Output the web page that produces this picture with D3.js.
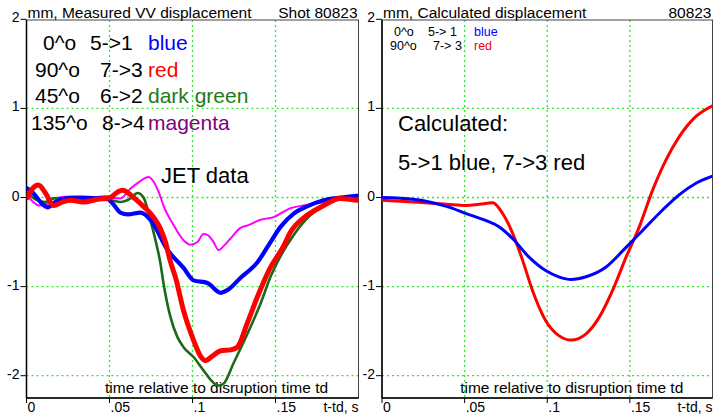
<!DOCTYPE html>
<html>
<head>
<meta charset="utf-8">
<script src="https://cdn.jsdelivr.net/npm/d3@7"></script>
<style>
  body { margin: 0; background: #fff; }
  svg { display: block; font-family: "Liberation Sans", Arial, Helvetica, sans-serif; }
</style>
</head>
<body>
<div id="main-container"></div>
<script>
// ---- Data ----
const Y_TICKS = [2, 1, 0, -1, -2];
const X_TICKS = [0, 0.05, 0.1, 0.15];
const X_TICK_LABELS = ['0', '.05', '.1', '.15'];
const GRID_X = [0.05, 0.1, 0.15];
const GRID_Y = [1, 0, -1, -2];

// measured VV displacement, [t - td (s), mm]
const MEAS_BLUE = [[0.0006,0.1],[0.004,0.05],[0.0084,-0.05],[0.0127,-0.11],[0.0175,-0.05],[0.0235,-0.01],
  [0.0325,0.0],[0.0416,-0.01],[0.0476,0.0],[0.052,-0.07],[0.0566,-0.17],[0.061,-0.19],[0.0687,-0.17],
  [0.0747,-0.25],[0.085,-0.59],[0.0946,-0.79],[0.1006,-0.93],[0.109,-0.96],[0.117,-1.07],[0.121,-1.04],
  [0.129,-0.9],[0.139,-0.73],[0.147,-0.5],[0.153,-0.33],[0.161,-0.18],[0.169,-0.1],[0.179,-0.03],
  [0.189,0.0],[0.199,0.02]];
const MEAS_RED = [[0.0006,0.0],[0.0036,0.1],[0.0072,0.14],[0.0114,0.05],[0.0163,-0.09],[0.0217,-0.05],
  [0.0265,-0.03],[0.0343,-0.05],[0.0428,-0.02],[0.0506,0.0],[0.054,0.05],[0.0578,0.08],[0.0645,0.0],
  [0.0705,-0.1],[0.0765,-0.22],[0.0807,-0.35],[0.0837,-0.5],[0.0867,-0.72],[0.0898,-0.9],[0.0946,-1.27],
  [0.1006,-1.6],[0.1048,-1.78],[0.1078,-1.83],[0.112,-1.78],[0.117,-1.72],[0.123,-1.71],[0.127,-1.68],
  [0.133,-1.41],[0.139,-1.12],[0.146,-0.82],[0.155,-0.54],[0.159,-0.39],[0.169,-0.2],[0.179,-0.09],
  [0.189,-0.01],[0.199,-0.03]];
const MEAS_GREEN = [[0.0006,0.05],[0.0054,-0.02],[0.0114,-0.05],[0.0163,-0.01],[0.0283,-0.01],[0.0386,-0.02],
  [0.0506,-0.03],[0.0566,-0.05],[0.0627,-0.01],[0.0669,0.05],[0.0705,0.0],[0.0747,-0.26],[0.0777,-0.48],
  [0.0807,-0.74],[0.0825,-0.96],[0.0867,-1.34],[0.091,-1.57],[0.0946,-1.68],[0.1006,-1.79],[0.1066,-1.94],
  [0.1127,-2.08],[0.1157,-2.11],[0.1187,-2.09],[0.1247,-1.86],[0.1331,-1.53],[0.141,-1.19],[0.147,-0.89],
  [0.153,-0.66],[0.161,-0.42],[0.171,-0.2],[0.179,-0.1],[0.189,-0.02],[0.199,-0.03]];
const MEAS_MAGENTA = [[0.0006,0.02],[0.004,-0.05],[0.0072,-0.09],[0.0127,-0.07],[0.0163,-0.01],[0.0265,0.01],
  [0.0367,0.0],[0.0488,0.0],[0.0566,-0.01],[0.0627,0.1],[0.0675,0.17],[0.0735,0.23],[0.0765,0.18],
  [0.0795,0.07],[0.0825,-0.09],[0.0886,-0.31],[0.0946,-0.48],[0.0988,-0.53],[0.103,-0.5],[0.1066,-0.41],
  [0.109,-0.42],[0.1127,-0.5],[0.1157,-0.59],[0.119,-0.54],[0.1229,-0.46],[0.1289,-0.34],[0.1337,-0.31],
  [0.141,-0.25],[0.1488,-0.22],[0.159,-0.12],[0.1669,-0.09],[0.177,-0.06],[0.189,-0.01],[0.199,0.0]];

// calculated displacement
const CALC_BLUE = [[0,0.0],[0.019,-0.02],[0.039,-0.1],[0.051,-0.18],[0.063,-0.26],[0.071,-0.33],[0.079,-0.46],
  [0.089,-0.67],[0.099,-0.82],[0.107,-0.89],[0.1145,-0.92],[0.1235,-0.89],[0.1356,-0.78],[0.1477,-0.56],
  [0.1577,-0.37],[0.1698,-0.14],[0.1798,0.03],[0.19,0.16],[0.2,0.24]];
const CALC_RED = [[0,-0.03],[0.019,-0.05],[0.039,-0.075],[0.051,-0.09],[0.059,-0.075],[0.067,-0.06],
  [0.073,-0.18],[0.079,-0.4],[0.085,-0.7],[0.091,-1.04],[0.099,-1.38],[0.107,-1.55],[0.1145,-1.6],
  [0.1235,-1.53],[0.1316,-1.34],[0.1396,-1.04],[0.1477,-0.67],[0.1557,-0.33],[0.1637,0.08],[0.1718,0.42],
  [0.1798,0.68],[0.19,0.91],[0.2,1.03]];

// ---- Layout ----
const WIDTH = 713, HEIGHT = 417;
const PLOT_TOP = 20, PLOT_BOTTOM = 398;
const GRID_COLOR = '#2ee82e';

const SVG = d3.select('#main-container').append('svg')
  .attr('width', WIDTH).attr('height', HEIGHT);

const Y_SCALE = d3.scaleLinear().domain([2, -2]).range([19.3, 375.7]);

function drawPanel(id, x0, x1, title, shot, series) {
  const X_SCALE = d3.scaleLinear().domain([0, 0.2]).range([x0, x1]);
  const g = SVG.append('g').attr('id', id);

  g.append('clipPath').attr('id', id + '-clip')
    .append('rect').attr('x', x0).attr('y', PLOT_TOP)
    .attr('width', x1 - x0).attr('height', PLOT_BOTTOM - PLOT_TOP);

  // grid
  g.selectAll('.gx').data(GRID_X).enter().append('line')
    .attr('x1', d => X_SCALE(d)).attr('x2', d => X_SCALE(d))
    .attr('y1', PLOT_TOP).attr('y2', PLOT_BOTTOM)
    .attr('stroke', GRID_COLOR).attr('stroke-width', 1.3).attr('stroke-dasharray', '2,3');
  g.selectAll('.gy').data(GRID_Y).enter().append('line')
    .attr('y1', d => Y_SCALE(d)).attr('y2', d => Y_SCALE(d))
    .attr('x1', x0).attr('x2', x1)
    .attr('stroke', GRID_COLOR).attr('stroke-width', 1.3).attr('stroke-dasharray', '2,3');

  // frame
  g.append('rect').attr('x', x0).attr('y', PLOT_TOP)
    .attr('width', x1 - x0).attr('height', PLOT_BOTTOM - PLOT_TOP)
    .attr('fill', 'none').attr('stroke', '#444').attr('stroke-width', 1);
  g.append('line').attr('x1', x0).attr('x2', x0).attr('y1', PLOT_TOP).attr('y2', PLOT_BOTTOM)
    .attr('stroke', '#000').attr('stroke-width', 1.5);
  g.append('line').attr('x1', x0).attr('x2', x1).attr('y1', PLOT_BOTTOM).attr('y2', PLOT_BOTTOM)
    .attr('stroke', '#000').attr('stroke-width', 1.5);

  // y ticks
  g.selectAll('.yt').data(Y_TICKS).enter().append('line')
    .attr('x1', x0 - 6).attr('x2', x0)
    .attr('y1', d => Y_SCALE(d)).attr('y2', d => Y_SCALE(d))
    .attr('stroke', '#000').attr('stroke-width', 1);
  g.selectAll('.yl').data(Y_TICKS).enter().append('text')
    .attr('x', x0 - 7).attr('y', d => Y_SCALE(d) + 3)
    .attr('text-anchor', 'end').style('font-size', '14px')
    .text(d => d);

  // x ticks
  g.selectAll('.xt').data(X_TICKS).enter().append('line')
    .attr('x1', d => X_SCALE(d)).attr('x2', d => X_SCALE(d))
    .attr('y1', PLOT_BOTTOM).attr('y2', PLOT_BOTTOM + 5)
    .attr('stroke', '#000').attr('stroke-width', 1);
  g.selectAll('.xl').data(X_TICKS).enter().append('text')
    .attr('x', d => X_SCALE(d) + 1).attr('y', 412)
    .style('font-size', '14px')
    .text((d, i) => X_TICK_LABELS[i]);
  g.append('text').attr('x', x1).attr('y', 412).attr('text-anchor', 'end')
    .style('font-size', '14px').text('t-td, s');

  // titles
  g.append('text').attr('x', x0 + 1).attr('y', 18).style('font-size', '15.5px').text(title);
  g.append('text').attr('x', x1 - 1).attr('y', 18).attr('text-anchor', 'end')
    .style('font-size', '15.5px').text(shot);
  g.append('text').attr('x', X_SCALE(0.0473)).attr('y', 393)
    .style('font-size', '15.5px').text('time relative to disruption time td');

  // series
  const line = d3.line().x(d => X_SCALE(d[0])).y(d => Y_SCALE(d[1])).curve(d3.curveMonotoneX);
  const lines = g.append('g').attr('clip-path', `url(#${id}-clip)`);
  series.forEach(s => {
    lines.append('path').datum(s.data)
      .attr('d', line).attr('fill', 'none')
      .attr('stroke', s.color).attr('stroke-width', s.width)
      .attr('stroke-linejoin', 'round').attr('stroke-linecap', 'round');
  });
  return g;
}

const LEFT = drawPanel('left', 26.5, 358.5, 'mm, Measured VV displacement', 'Shot 80823', [
  { data: MEAS_MAGENTA, color: '#ff00ff', width: 2 },
  { data: MEAS_GREEN, color: '#1b6a1b', width: 2.6 },
  { data: MEAS_BLUE, color: '#0000ff', width: 4.2 },
  { data: MEAS_RED, color: '#ff0000', width: 5 }
]);
const RIGHT = drawPanel('right', 382, 712.5, 'mm, Calculated displacement', '80823', [
  { data: CALC_RED, color: '#ff0000', width: 3 },
  { data: CALC_BLUE, color: '#0000ff', width: 3 }
]);

// left legend
const BIG = '21px';
const LEGEND_ROWS = [
  { y: 50, parts: [[43, '0^o', '#000'], [90, '5->1', '#000'], [148, 'blue', '#0000ff']] },
  { y: 77, parts: [[35, '90^o', '#000'], [100, '7->3', '#000'], [148, 'red', '#ff0000']] },
  { y: 103, parts: [[35, '45^o', '#000'], [100, '6->2', '#000'], [148, 'dark green', '#1e7a1e']] },
  { y: 130, parts: [[31, '135^o', '#000'], [102, '8->4', '#000'], [148, 'magenta', '#800080']] }
];
LEGEND_ROWS.forEach(r => {
  r.parts.forEach(p => {
    LEFT.append('text').attr('x', p[0]).attr('y', r.y)
      .style('font-size', BIG).attr('fill', p[2]).text(p[1]);
  });
});
LEFT.append('text').attr('x', 161).attr('y', 183).style('font-size', '22px').text('JET data');

// right legend (small, tight rows)
const SMALL_ROWS = [
  { y: 36, parts: [[394, '0^o', '#000'], [428, '5-> 1', '#000'], [474, 'blue', '#0000ff']] },
  { y: 50, parts: [[390, '90^o', '#000'], [433, '7-> 3', '#000'], [474, 'red', '#ff0000']] }
];
SMALL_ROWS.forEach(r => {
  r.parts.forEach(p => {
    RIGHT.append('text').attr('x', p[0]).attr('y', r.y)
      .style('font-size', '12.5px').attr('fill', p[2]).text(p[1]);
  });
});
RIGHT.append('text').attr('x', 398).attr('y', 131).style('font-size', '22px').text('Calculated:');
RIGHT.append('text').attr('x', 398).attr('y', 170).style('font-size', '22px').text('5->1 blue, 7->3 red');
</script>
</body>
</html>
